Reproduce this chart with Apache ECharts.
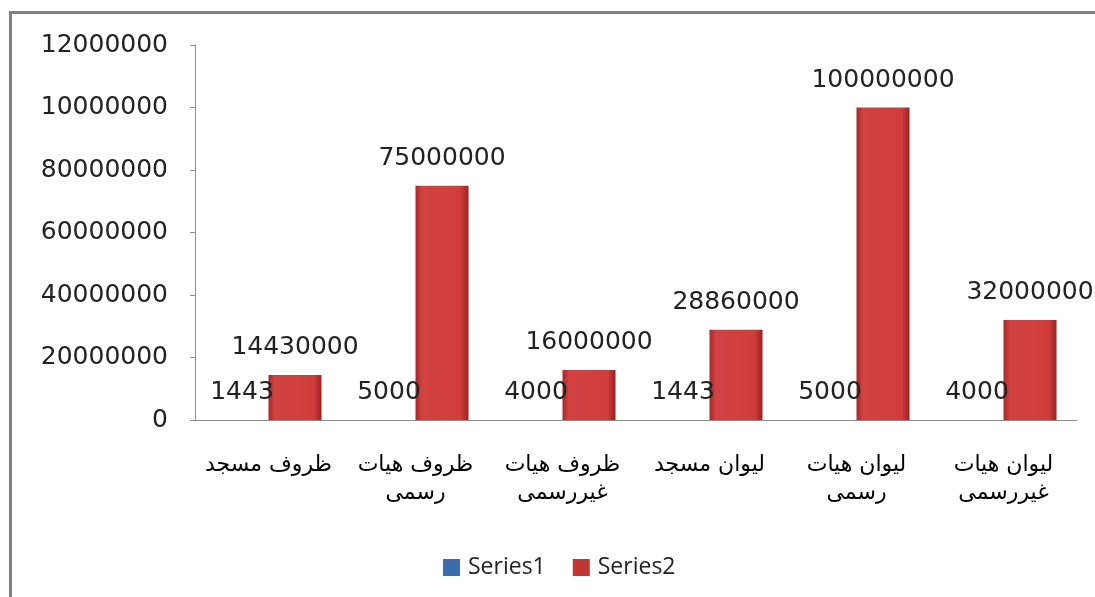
<!DOCTYPE html>
<html>
<head>
<meta charset="utf-8">
<script src="https://cdn.jsdelivr.net/npm/echarts@6/dist/echarts.min.js"></script>
<style>html,body{margin:0;padding:0;background:#fff;}#c{width:1095px;height:597px;}</style>
</head>
<body>
<div id="c"></div>
<script>
const categories = ["ظروف مسجد", "ظروف هیات\nرسمی", "ظروف هیات\nغیررسمی", "لیوان مسجد", "لیوان هیات\nرسمی", "لیوان هیات\nغیررسمی"];
const series1 = [1443, 5000, 4000, 1443, 5000, 4000];
const series2 = [14430000, 75000000, 16000000, 28860000, 100000000, 32000000];
const yTickLabels = ["0", "20000000", "40000000", "60000000", "80000000", "10000000", "12000000"];

const chart = echarts.init(document.getElementById('c'));
const redGrad = new echarts.graphic.LinearGradient(0, 0, 1, 0, [
  {offset: 0, color: '#a82828'},
  {offset: 0.12, color: '#d24242'},
  {offset: 0.85, color: '#d03c3c'},
  {offset: 1, color: '#9c2222'}
]);
const blueGrad = new echarts.graphic.LinearGradient(0, 0, 1, 0, [
  {offset: 0, color: '#2f5f9e'},
  {offset: 0.5, color: '#4f86c6'},
  {offset: 1, color: '#2f5f9e'}
]);
chart.setOption({
  animation: false,
  backgroundColor: '#fff',
  graphic: [{
    type: 'polyline', silent: true,
    shape: {points: [[10.5, 600], [10.5, 12.5], [1100, 12.5]]},
    style: {fill: 'none', stroke: '#808080', lineWidth: 3}
  }],
  grid: {left: 195, right: 18, top: 45, bottom: 177},
  legend: {
    top: 551, left: 438,
    itemWidth: 17, itemHeight: 17, icon: 'rect', itemGap: 27,
    textStyle: {fontFamily: 'Open Sans', fontSize: 23, color: '#222', padding: [0, 0, 0, 3]},
    data: [
      {name: 'Series1', itemStyle: {color: '#3a6cae'}},
      {name: 'Series2', itemStyle: {color: '#c03434'}}
    ]
  },
  xAxis: {
    type: 'category',
    data: categories,
    axisLine: {lineStyle: {color: '#8c8c8c'}},
    axisTick: {show: false},
    axisLabel: {
      interval: 0, margin: 31, fontFamily: 'DejaVu Sans', fontSize: 22,
      color: '#000', lineHeight: 28, align: 'center', verticalAlign: 'top'
    }
  },
  yAxis: {
    type: 'value', min: 0, max: 120000000, interval: 20000000,
    axisLine: {show: true, lineStyle: {color: '#8c8c8c'}},
    axisTick: {show: true, length: 5, lineStyle: {color: '#8c8c8c'}},
    splitLine: {show: false},
    axisLabel: {
      margin: 27, fontFamily: 'DejaVu Sans', fontSize: 25, color: '#222',
      formatter: function (v) { return yTickLabels[Math.round(v / 20000000)]; }
    }
  },
  series: [
    {
      name: 'Series1', type: 'bar', data: series1, barWidth: 53, barGap: '0%',
      itemStyle: {color: blueGrad},
      label: {show: true, position: 'top', distance: 15, fontFamily: 'DejaVu Sans', fontSize: 25, color: '#222'}
    },
    {
      name: 'Series2', type: 'bar', data: series2, barWidth: 53,
      itemStyle: {color: redGrad},
      label: {show: true, position: 'top', distance: 15, fontFamily: 'DejaVu Sans', fontSize: 25, color: '#222'}
    }
  ]
});
</script>
</body>
</html>
